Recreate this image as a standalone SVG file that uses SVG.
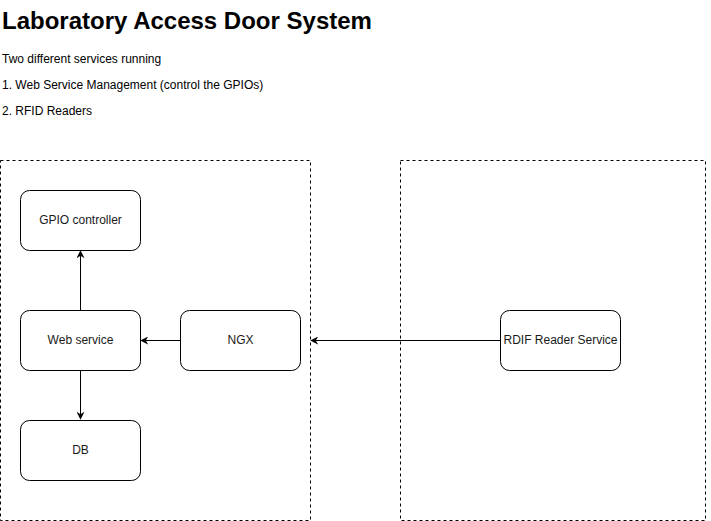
<svg xmlns="http://www.w3.org/2000/svg" width="711" height="521" viewBox="0 0 711 521">
<defs>
<style>
.t{font-family:"Liberation Sans",Arial,sans-serif;fill:#000}
.n rect{fill:#fff;stroke:#000;stroke-width:1}
.n text{font-family:"Liberation Sans",Arial,sans-serif;font-size:12px;fill:#1a1a1a;text-anchor:middle}
.c path{fill:none;stroke:#000;stroke-width:1}
.g{fill:none;stroke:#000;stroke-width:1;stroke-dasharray:3 3}
</style>
<marker id="a" viewBox="0 0 10 10" refX="9" refY="5" markerWidth="8" markerHeight="8" markerUnits="userSpaceOnUse" orient="auto">
<path d="M0,0 L10,5 L0,10 L3,5 Z" fill="#000"/>
</marker>
</defs>
<rect width="711" height="521" fill="#fff"/>
<text class="t" x="2" y="29" font-size="24" font-weight="bold">Laboratory Access Door System</text>
<text class="t" x="2" y="63" font-size="12">Two different services running</text>
<text class="t" x="2" y="89" font-size="12">1. Web Service Management (control the GPIOs)</text>
<text class="t" x="2" y="115" font-size="12">2. RFID Readers</text>
<g id="groups">
<rect class="g" x="0.5" y="160.5" width="310" height="360"/>
<rect class="g" x="400.5" y="160.5" width="305" height="360"/>
</g>
<g class="c" id="connectors">
<path d="M80.5,310 L80.5,251" marker-end="url(#a)"/>
<path d="M180,340.5 L141,340.5" marker-end="url(#a)"/>
<path d="M80.5,370 L80.5,419" marker-end="url(#a)"/>
<path d="M500,340.5 L311,340.5" marker-end="url(#a)"/>
</g>
<g class="n" id="gpio"><rect x="20.5" y="190.5" width="120" height="60" rx="9"/><text x="80.5" y="224">GPIO controller</text></g>
<g class="n" id="web"><rect x="20.5" y="310.5" width="120" height="60" rx="9"/><text x="80.5" y="344">Web service</text></g>
<g class="n" id="ngx"><rect x="180.5" y="310.5" width="120" height="60" rx="9"/><text x="240.5" y="344">NGX</text></g>
<g class="n" id="db"><rect x="20.5" y="420.5" width="120" height="60" rx="9"/><text x="80.5" y="454">DB</text></g>
<g class="n" id="rdif"><rect x="500.5" y="310.5" width="120" height="60" rx="9"/><text x="560.5" y="344">RDIF Reader Service</text></g>
</svg>
